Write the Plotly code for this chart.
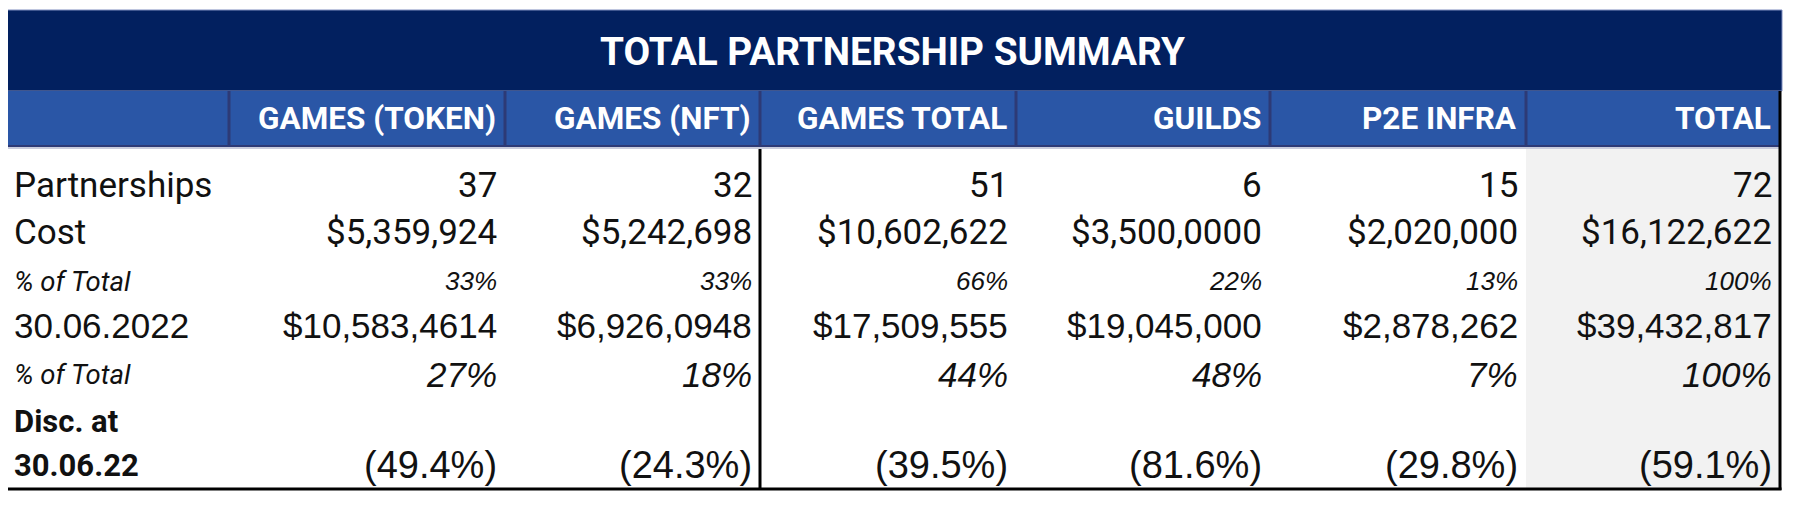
import plotly.graph_objects as go

# ---------------- data ----------------
title = "TOTAL PARTNERSHIP SUMMARY"
categories = ["GAMES (TOKEN)", "GAMES (NFT)", "GAMES TOTAL", "GUILDS", "P2E INFRA", "TOTAL"]
row_labels = ["Partnerships", "Cost", "% of Total", "30.06.2022", "% of Total", "Disc. at", "30.06.22"]
partnerships = [37, 32, 51, 6, 15, 72]
cost = ["$5,359,924", "$5,242,698", "$10,602,622", "$3,500,0000", "$2,020,000", "$16,122,622"]
cost_share_pct = [33, 33, 66, 22, 13, 100]
value_300622 = ["$10,583,4614", "$6,926,0948", "$17,509,555", "$19,045,000", "$2,878,262", "$39,432,817"]
value_share_pct = [27, 18, 44, 48, 7, 100]
discount_pct = [-49.4, -24.3, -39.5, -81.6, -29.8, -59.1]

row_values = [
    [str(v) for v in partnerships],
    cost,
    [f"{v}%" for v in cost_share_pct],
    value_300622,
    [f"{v}%" for v in value_share_pct],
    ["" for _ in categories],
    [f"({abs(v):.1f}%)" for v in discount_pct],
]

# ---------------- styling / layout geometry ----------------
PAGE_OFF = 8          # default body margin of the html page
W, H = 1800, 505
col_edges = [4, 229, 505, 760, 1016, 1270, 1526, 1780]
title_top, title_bot = 10, 91
head_bot = 146
body_top, row_h = 162, 46.8
body_bot = 490

NAVY = "#02205F"
BLUE = "#2A56A6"
DIV = "#2D3A76"
TXT = "#111111"

ROBOTO = "Roboto"
ARIAL = "Liberation Sans, Arial"

# per row: (label family, label size, label wrap, value family, value size, value wrap, y shift)
row_styles = [
    (ROBOTO, 35, "{}", ROBOTO, 35, "{}", 0),
    (ROBOTO, 35, "{}", ROBOTO, 35, "{}", 0),
    (ROBOTO, 27.5, "<i>{}</i>", ARIAL, 26, "<i>{}</i>", 2),
    (ARIAL, 35, "{}", ARIAL, 35, "{}", 0),
    (ROBOTO, 27.5, "<i>{}</i>", ARIAL, 35, "<i>{}</i>", 2),
    (ROBOTO, 31, "<b>{}</b>", ARIAL, 35, "{}", 2),
    (ROBOTO, 31, "<b>{}</b>", ARIAL, 38, "{}", -1),
]

fig = go.Figure()

shapes = []
# title band
shapes.append(dict(type="rect", x0=col_edges[0], x1=col_edges[-1] + 2, y0=title_top, y1=title_bot,
                   fillcolor=NAVY, line=dict(width=1, color="#7F8DBF"), layer="below"))
# header band
shapes.append(dict(type="rect", x0=col_edges[0], x1=col_edges[-1], y0=title_bot, y1=head_bot,
                   fillcolor=BLUE, line=dict(width=0), layer="below"))
# header dividers
for xe in col_edges[1:-1]:
    shapes.append(dict(type="line", x0=xe, x1=xe, y0=title_bot, y1=head_bot,
                       line=dict(color=DIV, width=3)))
# header bottom separators
shapes.append(dict(type="line", x0=col_edges[0], x1=col_edges[-1], y0=head_bot, y1=head_bot,
                   line=dict(color=DIV, width=2)))
shapes.append(dict(type="line", x0=col_edges[0], x1=col_edges[-1], y0=head_bot + 2, y1=head_bot + 2,
                   line=dict(color="#C9CCDD", width=2)))
# grey total column
shapes.append(dict(type="rect", x0=col_edges[-2], x1=col_edges[-1], y0=head_bot + 3, y1=body_bot,
                   fillcolor="#F2F2F2", line=dict(width=0), layer="below"))
# black borders
shapes.append(dict(type="line", x0=col_edges[0] + 1.5, x1=col_edges[0] + 1.5, y0=title_bot, y1=body_bot,
                   line=dict(color="black", width=3)))
shapes.append(dict(type="line", x0=col_edges[-1], x1=col_edges[-1], y0=title_bot, y1=body_bot,
                   line=dict(color="black", width=3)))
shapes.append(dict(type="line", x0=col_edges[0], x1=col_edges[-1] + 1.5, y0=body_bot - 1, y1=body_bot - 1,
                   line=dict(color="black", width=3)))
shapes.append(dict(type="line", x0=col_edges[3], x1=col_edges[3], y0=head_bot + 3, y1=body_bot,
                   line=dict(color="black", width=3)))

annotations = []
# title
annotations.append(dict(x=(col_edges[0] + col_edges[-1]) / 2, y=(title_top + title_bot) / 2 + 1,
                        text=f"<b>{title}</b>", showarrow=False, xanchor="center", yanchor="middle",
                        font=dict(family=ROBOTO, size=38.7, color="white")))
# headers
for j, cat in enumerate(categories):
    annotations.append(dict(x=col_edges[j + 2] - 7, y=(title_bot + head_bot) / 2,
                            text=f"<b>{cat}</b>", showarrow=False, xanchor="right", yanchor="middle",
                            font=dict(family=ROBOTO, size=31.5, color="white")))
# body
for i, label in enumerate(row_labels):
    lf, ls, lw, vf, vs, vw, dy = row_styles[i]
    yc = body_top + row_h * (i + 0.5) + dy
    annotations.append(dict(x=col_edges[0] + 8, y=yc, text=lw.format(label), showarrow=False,
                            xanchor="left", yanchor="middle",
                            font=dict(family=lf, size=ls, color=TXT)))
    for j, val in enumerate(row_values[i]):
        if not val:
            continue
        annotations.append(dict(x=col_edges[j + 2] - 6, y=yc, text=vw.format(val), showarrow=False,
                                xanchor="right", yanchor="middle",
                                font=dict(family=vf, size=vs, color=TXT)))

# the figure div sits PAGE_OFF px inside the page, so the axis ranges start there
fig_w = W - 2 * PAGE_OFF
fig_h = H - 2 * PAGE_OFF
fig.update_layout(
    width=fig_w, height=fig_h,
    margin=dict(l=0, r=0, t=0, b=0),
    paper_bgcolor="white", plot_bgcolor="white",
    xaxis=dict(range=[PAGE_OFF, PAGE_OFF + fig_w], visible=False, fixedrange=True),
    yaxis=dict(range=[PAGE_OFF + fig_h, PAGE_OFF], visible=False, fixedrange=True),
    shapes=shapes, annotations=annotations, showlegend=False,
)

fig.write_html("out.html", config={"displayModeBar": False})
